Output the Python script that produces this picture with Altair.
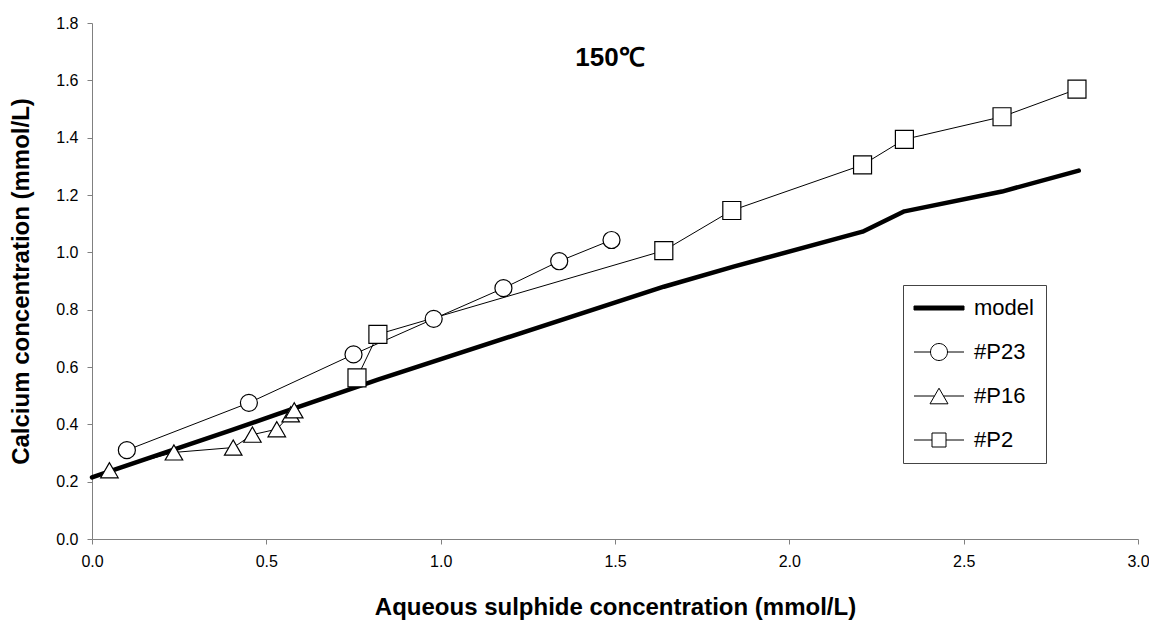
import altair as alt
import pandas as pd

# ---------------- data ----------------
series_names = ["model", "#P23", "#P16", "#P2"]

model_x = [0.0, 0.05, 0.23, 0.40, 0.46, 0.53, 0.58, 0.76, 0.82, 1.64, 1.84, 2.21, 2.33, 2.61, 2.83]
model_y = [0.215, 0.236, 0.31, 0.38, 0.405, 0.435, 0.456, 0.531, 0.556, 0.88, 0.95, 1.072, 1.143, 1.212, 1.285]

p23_x = [0.10, 0.45, 0.75, 0.98, 1.18, 1.34, 1.49]
p23_y = [0.31, 0.475, 0.644, 0.768, 0.875, 0.969, 1.043]

p16_x = [0.05, 0.235, 0.405, 0.46, 0.53, 0.57, 0.58]
p16_y = [0.24, 0.302, 0.319, 0.364, 0.383, 0.435, 0.449]

p2_x = [0.76, 0.82, 1.64, 1.835, 2.21, 2.33, 2.61, 2.825]
p2_y = [0.562, 0.714, 1.006, 1.146, 1.305, 1.394, 1.473, 1.569]

x_ticks = [0.0, 0.5, 1.0, 1.5, 2.0, 2.5, 3.0]
y_ticks = [0.0, 0.2, 0.4, 0.6, 0.8, 1.0, 1.2, 1.4, 1.6, 1.8]

# ---------------- tables ----------------
model_df = pd.DataFrame({"x": model_x, "y": model_y, "series": "model"})
exp_df = pd.concat([
    pd.DataFrame({"x": p23_x, "y": p23_y, "series": "#P23"}),
    pd.DataFrame({"x": p16_x, "y": p16_y, "series": "#P16"}),
    pd.DataFrame({"x": p2_x, "y": p2_y, "series": "#P2"}),
], ignore_index=True)
legend_df = pd.DataFrame({"series": series_names})

FONT = "Liberation Sans, Arial, sans-serif"

x_enc = alt.X("x:Q",
              scale=alt.Scale(domain=[0, 3], nice=False, zero=False),
              axis=alt.Axis(values=x_ticks, format=".1f", labelFlush=False,
                            title="Aqueous sulphide concentration (mmol/L)"))
y_enc = alt.Y("y:Q",
              scale=alt.Scale(domain=[0, 1.8], nice=False, zero=False),
              axis=alt.Axis(values=y_ticks, format=".1f", labelFlush=False,
                            title="Calcium concentration (mmol/L)"))

model_line = alt.Chart(model_df).mark_line(
    color="black", strokeWidth=4.5, strokeCap="round", strokeJoin="round"
).encode(x=x_enc, y=y_enc)

exp_lines = alt.Chart(exp_df).mark_line(
    color="black", strokeWidth=1
).encode(x=x_enc, y=y_enc, detail="series:N")

exp_points = alt.Chart(exp_df).mark_point(
    filled=True, fill="white", stroke="black", strokeWidth=1.2, opacity=1
).encode(
    x=x_enc, y=y_enc,
    shape=alt.Shape("series:N",
                    scale=alt.Scale(domain=["#P23", "#P16", "#P2"],
                                    range=["circle", "triangle-up", "square"]),
                    legend=None),
    size=alt.Size("series:N",
                  scale=alt.Scale(domain=["#P23", "#P16", "#P2"],
                                  range=[290, 324, 200]),
                  legend=None),
)

legend_paths = [
    "M-2.5,-0.2L2.5,-0.2L2.5,0.2L-2.5,0.2Z",
    "M-2.5,0L-0.85,0M0.85,0L2.5,0M-0.85,0A0.85,0.85,0,1,1,0.85,0A0.85,0.85,0,1,1,-0.85,0Z",
    "M-2.5,0L-0.45,0M0.45,0L2.5,0M0,-0.78L-0.9,0.78L0.9,0.78Z",
    "M-2.5,0L-0.7,0M0.7,0L2.5,0M-0.7,-0.7L0.7,-0.7L0.7,0.7L-0.7,0.7Z",
]

leg = dict(title=None, orient="none", legendX=811, legendY=262, padding=12,
           strokeColor="#444444", fillColor="white", cornerRadius=0,
           symbolSize=400, symbolStrokeWidth=1,
           symbolOffset=13, labelOffset=24, rowPadding=22,
           labelFont=FONT, labelFontSize=22, labelColor="black")

legend_layer = alt.Chart(legend_df).transform_filter("false").mark_point(
    filled=True, strokeWidth=1, opacity=1
).encode(
    shape=alt.Shape("series:N", scale=alt.Scale(domain=series_names, range=legend_paths),
                    legend=alt.Legend(**leg)),
    fill=alt.Fill("series:N", scale=alt.Scale(domain=series_names,
                                              range=["black", "white", "white", "white"]),
                  legend=alt.Legend(**leg)),
    stroke=alt.Stroke("series:N", scale=alt.Scale(domain=series_names,
                                                  range=["black", "black", "black", "black"]),
                      legend=alt.Legend(**leg)),
)

chart = alt.layer(model_line, exp_lines, exp_points, legend_layer).resolve_scale(
    shape="independent", fill="independent", size="independent", stroke="independent"
).properties(
    width=1046, height=516,
    padding={"left": 84, "top": 15, "right": 11, "bottom": 82},
    autosize=alt.AutoSizeParams(type="none"),
    background="white",
    title=alt.Title("150℃", font=FONT, fontSize=26, fontWeight="bold", color="black",
                    anchor="middle", frame="group", dx=-5, dy=60),
).configure_view(stroke=None).configure_axis(
    grid=False,
    domainColor="#808080", tickColor="#808080", tickSize=5, domainWidth=1, tickWidth=1,
    labelFont=FONT, labelFontSize=16, labelColor="black", labelPadding=9,
    titleFont=FONT, titleFontSize=24, titleFontWeight="bold", titleColor="black",
).configure_axisX(titlePadding=26).configure_axisY(titlePadding=22)

chart.save("out.html", embed_options={"renderer": "svg", "actions": False})
